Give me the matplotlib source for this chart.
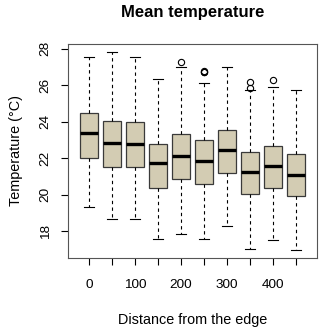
import matplotlib
matplotlib.use('Agg')
import matplotlib.pyplot as plt

plt.rcParams['font.family'] = ['Liberation Sans', 'DejaVu Sans']

# distance classes and box statistics
distance = [0, 50, 100, 150, 200, 250, 300, 350, 400, 450]
whis_lo = [19.33, 18.64, 18.64, 17.55, 17.82, 17.56, 18.27, 17.01, 17.49, 16.96]
q1 = [22.00, 21.51, 21.52, 20.37, 20.83, 20.58, 21.16, 20.04, 20.34, 19.92]
median = [23.35, 22.84, 22.78, 21.71, 22.11, 21.85, 22.46, 21.25, 21.54, 21.07]
q3 = [24.48, 24.04, 23.97, 22.75, 23.32, 22.99, 23.52, 22.31, 22.66, 22.24]
whis_hi = [27.52, 27.81, 27.55, 26.31, 26.97, 26.09, 26.97, 25.73, 25.91, 25.73]
outliers = [[], [], [], [], [27.24], [26.73, 26.78, 26.70], [], [26.18, 25.85], [26.26], []]

stats = []
for i in range(len(distance)):
    stats.append({'whislo': whis_lo[i], 'q1': q1[i], 'med': median[i], 'q3': q3[i],
                  'whishi': whis_hi[i], 'fliers': outliers[i]})

fig = plt.figure(figsize=(3.2, 3.3), dpi=100)
ax = fig.add_axes([0.2134, 0.2182, 0.7763, 0.6485])

pos = list(range(1, len(distance) + 1))
ax.bxp(stats, positions=pos, widths=0.8, patch_artist=True, showfliers=True,
       boxprops=dict(facecolor='#d3ccb3', edgecolor='#3a3a3a', linewidth=0.9),
       medianprops=dict(color='black', linewidth=2.4, solid_capstyle='butt'),
       whiskerprops=dict(color='black', linewidth=0.8, linestyle=(0, (3, 3))),
       capprops=dict(color='black', linewidth=0.8),
       flierprops=dict(marker='o', markerfacecolor='none', markeredgecolor='black',
                       markersize=4.5, markeredgewidth=0.8))

ax.set_xlim(0.1, 10.9)
ax.set_ylim(16.52, 28.25)
ax.set_xticks(pos)
ax.set_xticklabels([str(d) if i % 2 == 0 else '' for i, d in enumerate(distance)], fontsize=9.7)
ax.set_yticks([18, 20, 22, 24, 26, 28])
ax.set_yticklabels(['18', '20', '22', '24', '26', '28'], fontsize=9.7, rotation=90, va='center')
ax.tick_params(axis='x', direction='out', length=5, width=0.8, pad=10)
ax.tick_params(axis='y', direction='out', length=5, width=0.8, pad=7)
for s in ax.spines.values():
    s.set_linewidth(0.8)
    s.set_color('#555555')

ax.set_xlabel('Distance from the edge', fontsize=10.4, labelpad=16)
ax.set_ylabel('Temperature (°C)', fontsize=10.4, labelpad=12)
fig.text(0.603, 0.962, 'Mean temperature', ha='center', va='center', fontsize=12, fontweight='bold')

fig.savefig('out.png', dpi=100)
